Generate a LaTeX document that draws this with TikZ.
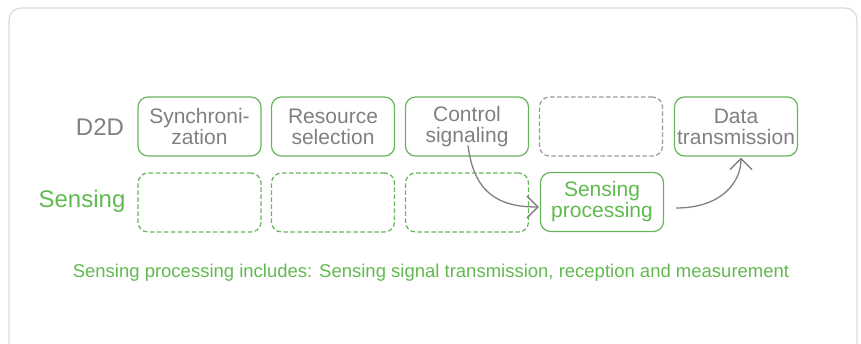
\documentclass[tikz,border=0pt]{standalone}
\usepackage{fontspec}
\setmainfont{Liberation Sans}
\usetikzlibrary{arrows.meta,calc}
\definecolor{grn}{RGB}{96,186,78}
\definecolor{grnline}{RGB}{104,180,92}
\definecolor{gtxt}{RGB}{128,128,128}
\definecolor{frame}{RGB}{218,218,218}
\begin{document}
\begin{tikzpicture}[x=1pt,y=-1pt,
  box/.style={draw=grnline,line width=1.2pt,rounded corners=10pt,minimum width=123pt,minimum height=59pt,inner sep=0pt,align=center,font=\fontsize{21}{21}\selectfont,text=gtxt},
  dbox/.style={box,dash pattern=on 4.5pt off 2.5pt},
  gdbox/.style={dbox,draw=gtxt!80},
  rowlab/.style={font=\fontsize{24}{26}\selectfont},
  conn/.style={draw=gtxt,line width=1.3pt,-{Straight Barb[length=11pt,width=22pt,line width=1.4pt]}}]
\useasboundingbox (0,0) rectangle (861,344);
\draw[frame,line width=1.2pt,rounded corners=12pt] (9,8) rectangle (857,356);
\node[rowlab,text=gtxt] (d2d) at (100,127) {D2D};
\node[rowlab,text=grn] (sens) at (82,201) {Sensing};
\node[box] (b1) at (199.5,126.5) {Synchroni-\\zation};
\node[box] (b2) at (333,126.5) {Resource\\selection};
\node[box] (b3) at (467,126.5) {Control\\signaling};
\node[gdbox] (b4) at (601,126.5) {};
\node[box] (b5) at (736,126.5) {Data\\transmission};
\node[dbox] (s1) at (199.5,202.5) {};
\node[dbox] (s2) at (333,202.5) {};
\node[dbox] (s3) at (467,202.5) {};
\node[box,text=grn] (s4) at (602,202) {Sensing\\processing};
\node[font=\fontsize{18.5}{20}\selectfont,text=grn] (cap) at (431,273) {Sensing processing includes: Sensing signal transmission, reception and measurement};
\coordinate (a1s) at ($(b3.center)+(1,19)$);
\coordinate (a1e) at ($(s4.west)+(-1,5)$);
\draw[conn] (a1s) .. controls ($(a1s)+(6,48)$) and ($(a1e)+(-40,0)$) .. (a1e);
\coordinate (a2s) at ($(s4.east)+(12,6)$);
\coordinate (a2e) at ($(b5.south)+(5,1)$);
\draw[conn] (a2s) .. controls ($(a2s)+(45,0)$) and ($(a2e)+(0,25)$) .. (a2e);
\end{tikzpicture}
\end{document}
